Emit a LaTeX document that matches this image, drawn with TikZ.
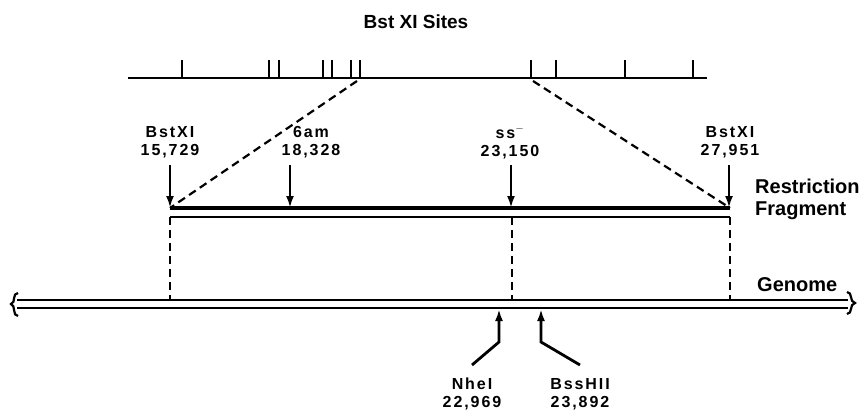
\documentclass[tikz,border=0pt]{standalone}
\usepackage{fontspec}
\setmainfont{Liberation Sans}
\newfontfamily\sitefont[LetterSpace=12]{Liberation Sans}
\usetikzlibrary{arrows.meta,positioning,calc}

\begin{document}
\begin{tikzpicture}[x=1pt,y=-1pt,
  site/.style={font=\sitefont\bfseries\fontsize{16}{18}\selectfont, align=center, inner sep=0pt},
  big/.style={font=\bfseries\fontsize{20}{22}\selectfont, align=left, anchor=west, inner sep=0pt},
  arr/.style={line width=2.8pt, -{Latex[length=12pt,width=8pt]}},
  dsh/.style={line width=2.2pt, dash pattern=on 8pt off 5pt}]
\useasboundingbox (0,0) rectangle (868,412);
% BstXI map
\node[font=\bfseries\fontsize{19}{21}\selectfont] (title) at (416,22) {Bst XI Sites};
\coordinate (mapL) at (128,78);
\coordinate (mapR) at (707,78);
\draw[line width=2.8pt] (mapL) -- (mapR);
\foreach \x in {182,269,279,323,332,351,360,531,556,625,693} {
  \draw[line width=2.3pt] (\x,78) -- (\x,60);
}
% Restriction fragment
\coordinate (fragL) at (170,208);
\coordinate (fragR) at (730,208);
\draw[line width=3.6pt] (fragL) -- (fragR);
\draw[line width=2.5pt] ($(fragL)+(0,9)$) -- ($(fragR)+(0,9)$);
\node[big] (fraglab) at (755,199) {Restriction\\Fragment};
% zoom lines from map to fragment
\coordinate (zoomL) at (357,81);
\coordinate (zoomR) at (533,81);
\draw[dsh] (zoomL) -- (fragL);
\draw[dsh] (zoomR) -- (fragR);
% sites on the fragment
\foreach \n/\x/\lx/\l in {a/170/170/{BstXI\\15,729},b/290/311/{6am\\18,328},c/511/510/{ss$^{-}$\\23,150},d/729/730/{BstXI\\27,951}} {
  \node[site] (lab\n) at (\lx,142) {\l};
  \coordinate (tail\n) at (\x,165);
  \coordinate (tip\n) at (\x,208);
  \draw[arr] (tail\n) -- (tip\n);
}
% Genome
\coordinate (genL) at (17,300);
\coordinate (genR) at (848,300);
\draw[line width=2.5pt] (genL) -- (genR);
\draw[line width=2.5pt] ($(genL)+(0,8)$) -- ($(genR)+(0,8)$);
\draw[line width=2.2pt] (18,293) .. controls (12,293) and (16,303) .. (11,304) .. controls (16,305) and (12,316) .. (18,316);
\draw[line width=2.2pt] (847,292) .. controls (853,292) and (849,302) .. (855,303) .. controls (849,304) and (853,314) .. (847,314);
\node[big] (genlab) at (757,285) {Genome};
% fragment ends and ss- projected on the genome
\foreach \x in {170,512,730} {
  \draw[dsh] (\x,217) -- (\x,300);
}
% sites below the genome
\node[site] (nhe) at (472,394) {NheI\\22,969};
\node[site] (bss) at (580,394) {BssHII\\23,892};
\coordinate (nheA) at (472,365);
\coordinate (nheB) at (499,342);
\coordinate (nheC) at (499,309);
\coordinate (bssA) at (580,365);
\coordinate (bssB) at (541,342);
\coordinate (bssC) at (541,309);
\draw[arr] (nheA) -- (nheB) -- (nheC);
\draw[arr] (bssA) -- (bssB) -- (bssC);
\end{tikzpicture}
\end{document}
